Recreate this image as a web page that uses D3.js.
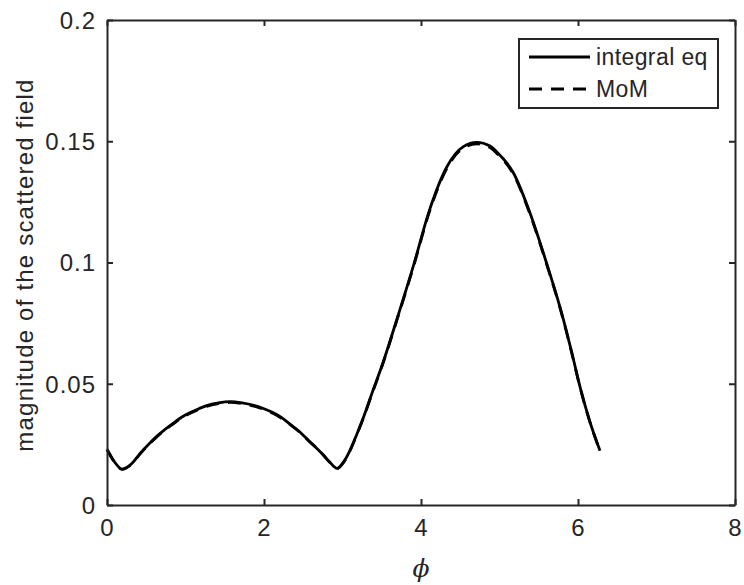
<!DOCTYPE html>
<html>
<head>
<meta charset="utf-8">
<script src="https://cdn.jsdelivr.net/npm/d3@7"></script>
<style>
  html, body { margin: 0; padding: 0; background: #fff; }
  svg { display: block; }
  text { font-family: "Liberation Sans", Arial, Helvetica, sans-serif; fill: #262626; }
</style>
</head>
<body>
<svg id="chart" width="744" height="585"></svg>
<script>
// ---- data ----
const phi = [0.00, 0.10, 0.19, 0.32, 0.42, 0.53, 0.63, 0.74, 0.85, 0.95, 1.06, 1.17, 1.27, 1.42, 1.57,
  1.72, 1.87, 2.00, 2.12, 2.23, 2.33, 2.44, 2.54, 2.65, 2.76, 2.84, 2.93, 3.02, 3.10, 3.18, 3.27,
  3.39, 3.50, 3.69, 3.90, 4.11, 4.33, 4.54, 4.71, 4.88, 4.96, 5.18, 5.39, 5.60, 5.81, 5.92, 6.03,
  6.15, 6.28];
const integralEq = [0.0230, 0.0176, 0.0148, 0.0172, 0.0212, 0.0250, 0.0282, 0.0312, 0.0339, 0.0362,
  0.0381, 0.0397, 0.0410, 0.0421, 0.0426, 0.0421, 0.0411, 0.0397, 0.0380, 0.0359, 0.0334, 0.0306,
  0.0275, 0.0241, 0.0205, 0.0176, 0.0151, 0.0180, 0.0228, 0.0290, 0.0364, 0.0474, 0.0572, 0.0763,
  0.0983, 0.1218, 0.1395, 0.1478, 0.1495, 0.1480, 0.1458, 0.1368, 0.1203, 0.0997, 0.0770, 0.0630,
  0.0482, 0.0345, 0.0224];
const mom = [0.0228, 0.0175, 0.0147, 0.0171, 0.0210, 0.0248, 0.0280, 0.0310, 0.0336, 0.0359,
  0.0378, 0.0394, 0.0407, 0.0418, 0.0423, 0.0418, 0.0408, 0.0394, 0.0377, 0.0356, 0.0332, 0.0304,
  0.0273, 0.0240, 0.0204, 0.0175, 0.0150, 0.0179, 0.0227, 0.0288, 0.0362, 0.0471, 0.0569, 0.0759,
  0.0978, 0.1212, 0.1389, 0.1472, 0.1489, 0.1474, 0.1452, 0.1362, 0.1198, 0.0993, 0.0767, 0.0627,
  0.0480, 0.0344, 0.0223];
const xTicks = [0, 2, 4, 6, 8];
const yTicks = [0, 0.05, 0.1, 0.15, 0.2];
const seriesNames = ["integral eq", "MoM"];

// ---- layout ----
const svg = d3.select("#chart");
const L = 107, R = 735, T = 20, B = 505;
const x = d3.scaleLinear().domain([0, 8]).range([L, R]);
const y = d3.scaleLinear().domain([0, 0.2]).range([B, T]);
const axisColor = "#262626";
const tickLen = 6;

// curves
const line = d3.line().x(d => x(d[0])).y(d => y(d[1])).curve(d3.curveMonotoneX);
svg.append("path")
  .datum(phi.map((p, i) => [p, integralEq[i]]))
  .attr("d", line).attr("fill", "none").attr("stroke", "#000").attr("stroke-width", 2.8)
  .attr("stroke-linejoin", "round");
svg.append("path")
  .datum(phi.map((p, i) => [p, mom[i]]))
  .attr("d", line).attr("fill", "none").attr("stroke", "#000").attr("stroke-width", 2.8)
  .attr("stroke-dasharray", "13,9");

// axes (box style, inward ticks, mirrored)
const fmt = d => d3.format("")(d);
const gx = svg.append("g").attr("transform", `translate(0,${B})`)
  .call(d3.axisBottom(x).tickValues(xTicks).tickSizeInner(-tickLen).tickSizeOuter(0).tickPadding(14).tickFormat(fmt));
const gxTop = svg.append("g").attr("transform", `translate(0,${T})`)
  .call(d3.axisTop(x).tickValues(xTicks).tickSizeInner(-tickLen).tickSizeOuter(0).tickFormat(""));
const gy = svg.append("g").attr("transform", `translate(${L},0)`)
  .call(d3.axisLeft(y).tickValues(yTicks).tickSizeInner(-tickLen).tickSizeOuter(0).tickPadding(11).tickFormat(fmt));
const gyR = svg.append("g").attr("transform", `translate(${R},0)`)
  .call(d3.axisRight(y).tickValues(yTicks).tickSizeInner(-tickLen).tickSizeOuter(0).tickFormat(""));

[gx, gxTop, gy, gyR].forEach(g => {
  g.select(".domain").attr("stroke", axisColor).attr("stroke-width", 2);
  g.selectAll(".tick line").attr("stroke", axisColor).attr("stroke-width", 2);
  g.selectAll(".tick text").attr("fill", axisColor).style("font-size", "24px")
    .style("font-family", '"Liberation Sans", Arial, sans-serif').style("letter-spacing", "1px");
});
gx.selectAll(".tick text").attr("dy", "0.71em");
gy.selectAll(".tick text").attr("dy", "0.35em");

// axis labels
svg.append("text")
  .attr("transform", `translate(33,265) rotate(-90)`)
  .attr("text-anchor", "middle").style("font-size", "24px").style("letter-spacing", "1.2px")
  .text("magnitude of the scattered field");
svg.append("text")
  .attr("x", (L + R) / 2).attr("y", 577)
  .attr("text-anchor", "middle")
  .style("font-size", "25px").style("font-style", "italic")
  .style("font-family", '"DejaVu Serif", serif')
  .text("\u03D5");

// legend
const lg = svg.append("g");
lg.append("rect").attr("x", 519).attr("y", 39).attr("width", 199).attr("height", 69)
  .attr("fill", "#fff").attr("stroke", axisColor).attr("stroke-width", 2);
const rows = [57, 89];
seriesNames.forEach((name, i) => {
  const ln = lg.append("line").attr("x1", 529).attr("x2", 590).attr("y1", rows[i]).attr("y2", rows[i])
    .attr("stroke", "#000").attr("stroke-width", 2.8);
  if (i === 1) ln.attr("stroke-dasharray", "13,9");
  lg.append("text").attr("x", 596).attr("y", rows[i]).attr("dy", "0.35em")
    .style("font-size", "23px").style("letter-spacing", "0.4px").attr("fill", "#000").text(name);
});
</script>
</body>
</html>
